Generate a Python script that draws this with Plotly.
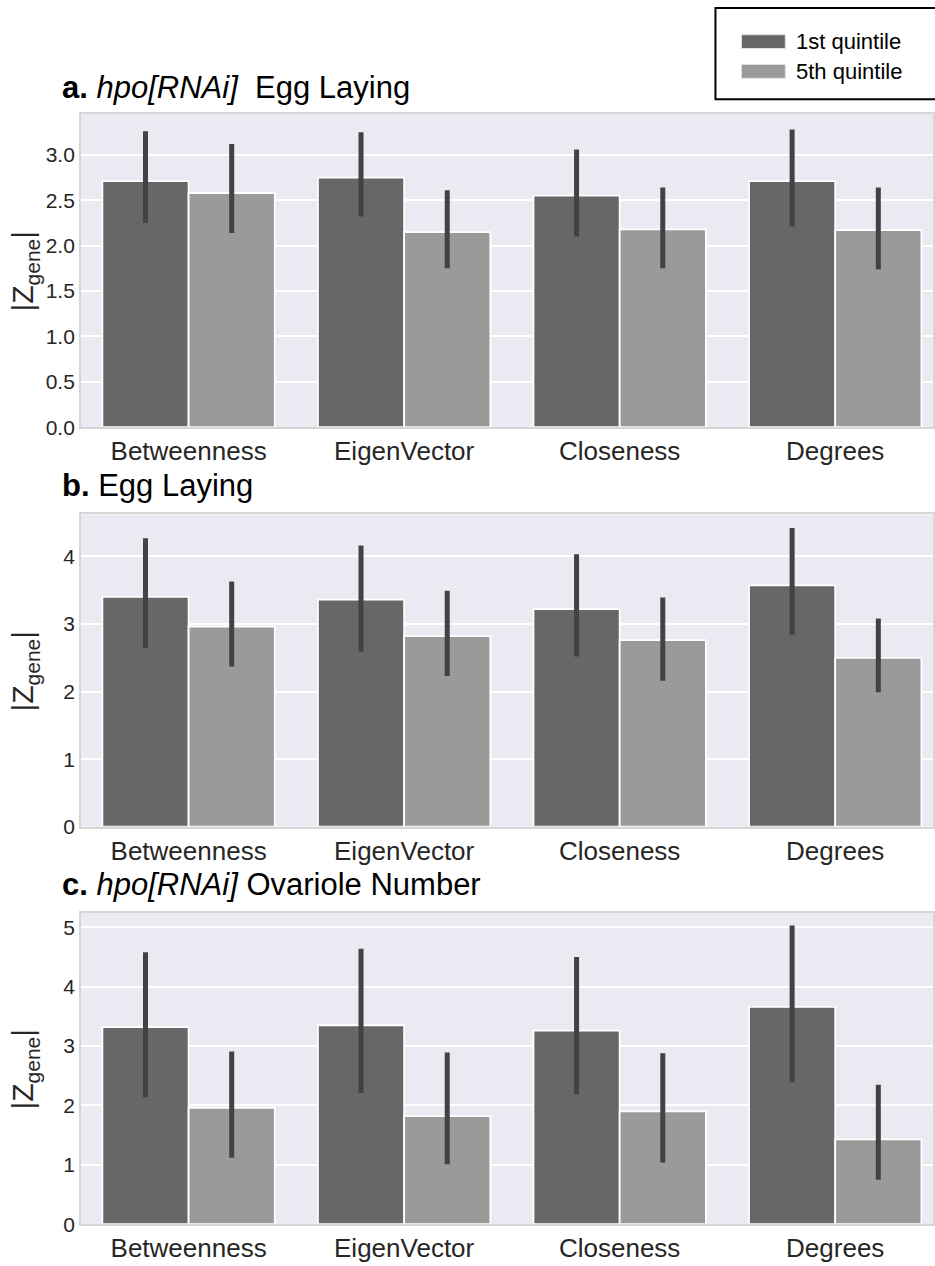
import plotly.graph_objects as go

categories = ["Betweenness", "EigenVector", "Closeness", "Degrees"]
series_names = ["1st quintile", "5th quintile"]

# Panel a: hpo[RNAi] Egg Laying
a_q1 = [2.71, 2.75, 2.55, 2.71]
a_q1_hi = [3.26, 3.25, 3.06, 3.28]
a_q1_lo = [2.25, 2.32, 2.10, 2.21]
a_q5 = [2.58, 2.15, 2.18, 2.17]
a_q5_hi = [3.12, 2.61, 2.64, 2.64]
a_q5_lo = [2.14, 1.75, 1.75, 1.74]

# Panel b: Egg Laying
b_q1 = [3.40, 3.36, 3.22, 3.57]
b_q1_hi = [4.27, 4.16, 4.03, 4.42]
b_q1_lo = [2.64, 2.59, 2.52, 2.84]
b_q5 = [2.96, 2.82, 2.76, 2.50]
b_q5_hi = [3.63, 3.49, 3.39, 3.08]
b_q5_lo = [2.37, 2.23, 2.16, 1.99]

# Panel c: hpo[RNAi] Ovariole Number
c_q1 = [3.32, 3.35, 3.26, 3.66]
c_q1_hi = [4.58, 4.64, 4.50, 5.03]
c_q1_lo = [2.14, 2.21, 2.19, 2.39]
c_q5 = [1.96, 1.82, 1.90, 1.43]
c_q5_hi = [2.91, 2.89, 2.88, 2.35]
c_q5_lo = [1.12, 1.01, 1.04, 0.75]

panel_titles = [
    "<b>a.</b> <i>hpo[RNAi]</i>\u00a0\u00a0Egg Laying",
    "<b>b.</b> Egg Laying",
    "<b>c.</b> <i>hpo[RNAi]</i> Ovariole Number",
]
y_label = "|Z<sub><span style='font-size:21px'>gene</span></sub>|"

W, H = 935, 1266
colors = ["#676767", "#9a9a9a"]
err_color = "#424242"
FONT = "Liberation Sans, Arial, sans-serif"

panels = [
    dict(data=[(a_q1, a_q1_hi, a_q1_lo), (a_q5, a_q5_hi, a_q5_lo)], top=115, bot=431,
         yr=[0, 3.45], dtick=0.5, fmt=".1f", title_base=101),
    dict(data=[(b_q1, b_q1_hi, b_q1_lo), (b_q5, b_q5_hi, b_q5_lo)], top=519, bot=834,
         yr=[0, 4.62], dtick=1, fmt="d", title_base=502),
    dict(data=[(c_q1, c_q1_hi, c_q1_lo), (c_q5, c_q5_hi, c_q5_lo)], top=921, bot=1235,
         yr=[0, 5.24], dtick=1, fmt="d", title_base=905),
]

fig = go.Figure()
left_px = 81
x_dom = [left_px / W, 1.0]
x_range = [-0.5, -0.5 + (W - left_px) / 216.0]

annotations = []
shapes = []
for i, p in enumerate(panels):
    sfx = "" if i == 0 else str(i + 1)
    for j, (vals, hi, lo) in enumerate(p["data"]):
        fig.add_trace(go.Bar(
            x=categories, y=vals, name=series_names[j],
            marker=dict(color=colors[j], line=dict(color="white", width=1.8)),
            error_y=dict(type="data", symmetric=False,
                         array=[h - v for h, v in zip(hi, vals)],
                         arrayminus=[v - l for v, l in zip(vals, lo)],
                         color=err_color, thickness=5, width=0),
            xaxis="x" + sfx, yaxis="y" + sfx, showlegend=False,
            offsetgroup=str(j),
        ))
    y_dom = [1 - p["bot"] / H, 1 - p["top"] / H]
    fig.layout["xaxis" + sfx] = dict(
        domain=x_dom, range=x_range, anchor="y" + sfx, showgrid=False,
        tickfont=dict(family=FONT, size=26, color="#262626"), ticks="",
        showline=True, linecolor="#d6d6d6", linewidth=1.5, mirror=True, zeroline=False,
    )
    fig.layout["yaxis" + sfx] = dict(
        domain=y_dom, range=p["yr"], anchor="x" + sfx, dtick=p["dtick"], tickformat=p["fmt"],
        showgrid=True, gridcolor="white", gridwidth=2, zeroline=False,
        tickfont=dict(family=FONT, size=21, color="#262626"), ticks="",
        showline=True, linecolor="#d6d6d6", linewidth=1.5, mirror=True,
    )
    annotations.append(dict(
        text=panel_titles[i], xref="paper", yref="paper", x=60 / W,
        y=1 - (p["title_base"] + 7) / H, xanchor="left", yanchor="bottom",
        showarrow=False, font=dict(family=FONT, size=31, color="black"),
    ))
    annotations.append(dict(
        text=y_label, xref="paper", yref="paper", x=25 / W,
        y=1 - (p["top"] + p["bot"]) / 2 / H, xanchor="center", yanchor="middle",
        textangle=-90, showarrow=False, font=dict(family=FONT, size=30, color="#262626"),
    ))

# custom legend box
shapes.append(dict(type="rect", xref="paper", yref="paper",
                   x0=717 / W, x1=1.01, y0=1 - 100 / H, y1=1 - 8 / H,
                   line=dict(color="black", width=2), fillcolor="white", layer="above"))
row_centers = [42, 72]
for j, name in enumerate(series_names):
    yc = row_centers[j]
    shapes.append(dict(type="rect", xref="paper", yref="paper",
                       x0=743 / W, x1=787 / W, y0=1 - (yc + 7) / H, y1=1 - (yc - 7) / H,
                       line=dict(color="#e2e2e2", width=1), fillcolor=colors[j], layer="above"))
    annotations.append(dict(text=name, xref="paper", yref="paper", x=796 / W,
                            y=1 - yc / H, xanchor="left", yanchor="middle", showarrow=False,
                            font=dict(family=FONT, size=22, color="black")))

fig.update_layout(
    width=W, height=H, margin=dict(l=0, r=0, t=0, b=0),
    paper_bgcolor="white", plot_bgcolor="#eaeaf2",
    barmode="group", bargap=0.2, bargroupgap=0,
    annotations=annotations, shapes=shapes, showlegend=False,
    font=dict(family=FONT),
)

fig.write_html("out.html")
